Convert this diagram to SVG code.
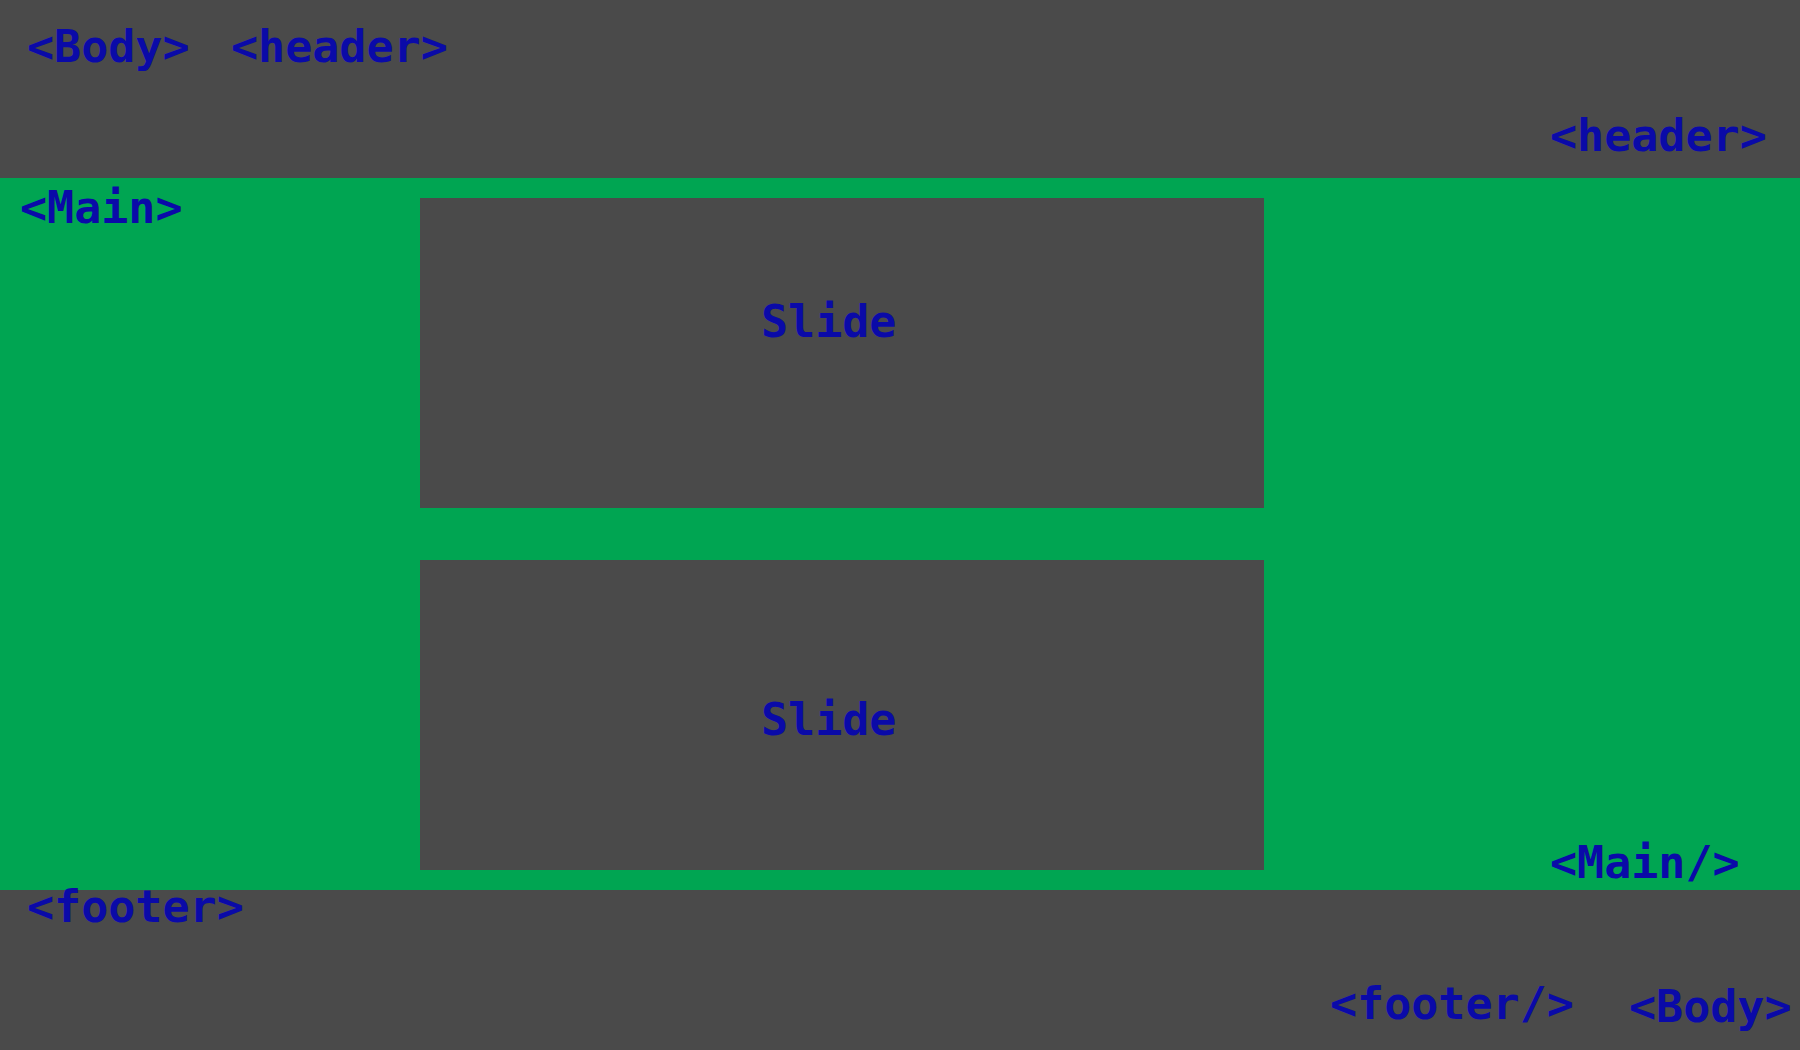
<svg xmlns="http://www.w3.org/2000/svg" width="1800" height="1050" viewBox="0 0 1800 1050">
<style>
.bg{fill:#4a4a4a}
.main{fill:#00a552}
.lbl{font-family:"DejaVu Sans Mono","Liberation Mono",monospace;font-weight:bold;font-size:45px;fill:#0a0aa8}
</style>
<g id="body"><rect class="bg" x="0" y="0" width="1800" height="1050"/></g>
<g id="header">
<rect class="bg" x="0" y="0" width="1800" height="178"/>
<text class="lbl" x="27" y="62">&lt;Body&gt;</text>
<text class="lbl" x="231" y="62">&lt;header&gt;</text>
<text class="lbl" x="1550" y="151">&lt;header&gt;</text>
</g>
<g id="main">
<rect class="main" x="0" y="178" width="1800" height="712"/>
<text class="lbl" x="20" y="223">&lt;Main&gt;</text>
<text class="lbl" x="1550" y="878">&lt;Main/&gt;</text>
</g>
<g id="slide1">
<rect class="bg" x="420" y="198" width="844" height="310"/>
<text class="lbl" x="761" y="337">Slide</text>
</g>
<g id="slide2">
<rect class="bg" x="420" y="560" width="844" height="310"/>
<text class="lbl" x="761" y="735">Slide</text>
</g>
<g id="footer">
<rect class="bg" x="0" y="890" width="1800" height="160"/>
<text class="lbl" x="27" y="922">&lt;footer&gt;</text>
<text class="lbl" x="1330" y="1019">&lt;footer/&gt;</text>
<text class="lbl" x="1629" y="1022">&lt;Body&gt;</text>
</g>
<g id="connectors"/>
</svg>
